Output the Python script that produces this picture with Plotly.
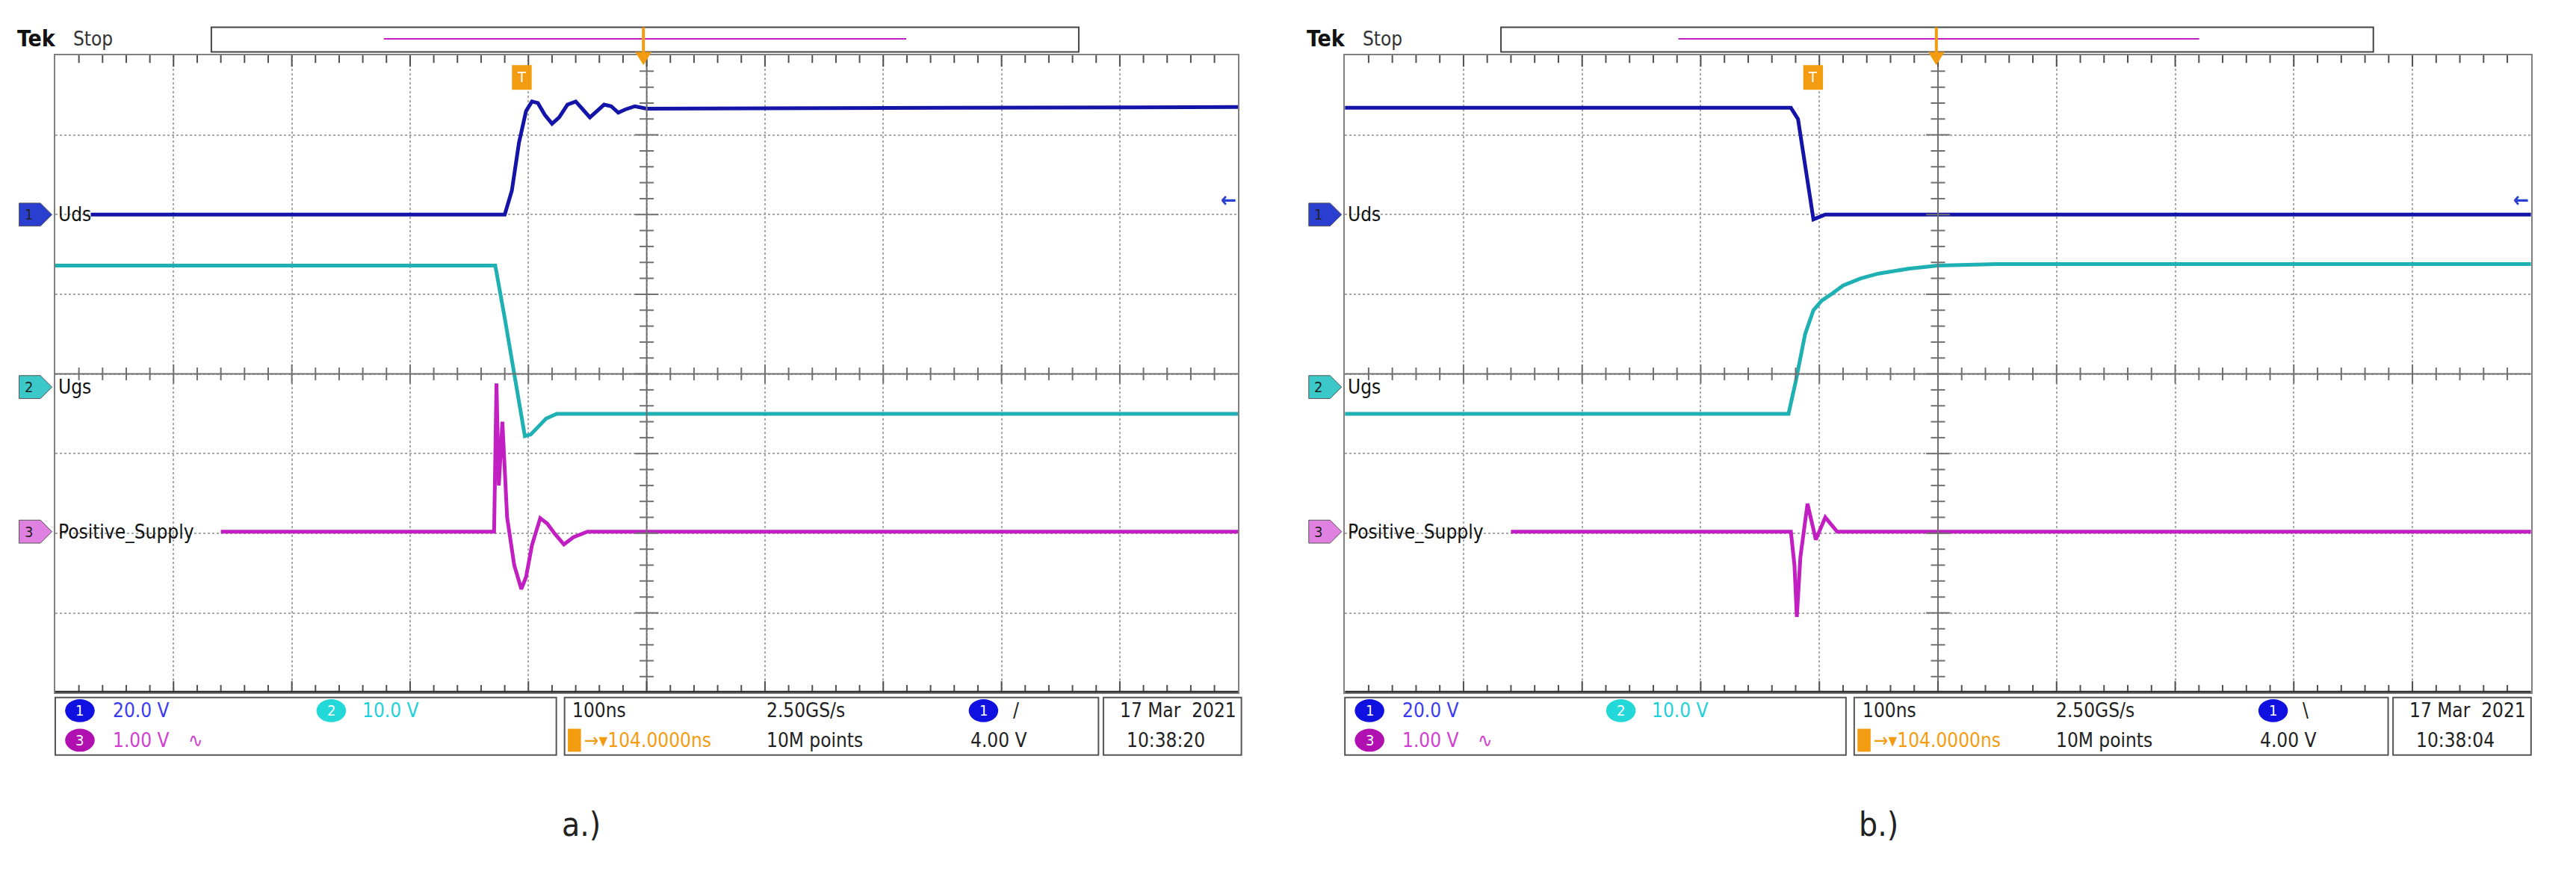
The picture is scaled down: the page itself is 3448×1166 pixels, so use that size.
import plotly.graph_objects as go

# ---- data (time in divisions, 100 ns/div; level in divisions from bottom) ----
uds_a_t = [0.30, 3.80, 3.86, 3.92, 3.98, 4.03, 4.08, 4.14, 4.20, 4.26, 4.33, 4.40, 4.46, 4.52, 4.58, 4.64, 4.70, 4.76, 4.82, 4.90, 5.00, 10.0]
uds_a_v = [6.00, 6.00, 6.30, 6.90, 7.30, 7.42, 7.40, 7.25, 7.14, 7.22, 7.38, 7.42, 7.32, 7.22, 7.30, 7.38, 7.36, 7.28, 7.32, 7.36, 7.33, 7.35]
ugs_a_t = [0.00, 3.72, 3.80, 3.90, 3.97, 4.02, 4.08, 4.15, 4.24, 10.0]
ugs_a_v = [5.36, 5.36, 4.70, 3.80, 3.22, 3.24, 3.34, 3.44, 3.50, 3.50]
pos_a_t = [1.40, 3.71, 3.73, 3.75, 3.78, 3.82, 3.88, 3.94, 3.98, 4.03, 4.10, 4.16, 4.22, 4.30, 4.38, 4.50, 4.80, 10.0]
pos_a_v = [2.02, 2.02, 3.88, 2.60, 3.40, 2.20, 1.60, 1.30, 1.45, 1.85, 2.19, 2.12, 2.00, 1.86, 1.95, 2.02, 2.02, 2.02]

uds_b_t = [0.00, 3.76, 3.82, 3.90, 3.95, 4.05, 4.20, 10.0]
uds_b_v = [7.34, 7.34, 7.20, 6.40, 5.94, 6.00, 6.00, 6.00]
ugs_b_t = [0.00, 3.74, 3.80, 3.88, 3.95, 4.02, 4.10, 4.20, 4.35, 4.50, 4.75, 5.00, 5.50, 10.0]
ugs_b_v = [3.50, 3.50, 3.90, 4.50, 4.80, 4.92, 5.00, 5.11, 5.20, 5.26, 5.32, 5.36, 5.38, 5.38]
pos_b_t = [1.40, 3.76, 3.79, 3.81, 3.84, 3.90, 3.97, 4.05, 4.15, 4.40, 10.0]
pos_b_v = [2.02, 2.02, 1.60, 0.95, 1.70, 2.37, 1.92, 2.20, 2.02, 2.02, 2.02]

C_UDS, C_UGS, C_POS, C_ORG = "#1414a8", "#1fb0b4", "#c21fc2", "#f39c12"
W, H = 3448, 1166
S = W / 1568.0  # display -> pixel scale

def px(x): return x * S / W
def py(y): return 1 - y * S / H

GX = [(30, 750), (815, 1537)]
GY = (30, 418)

fig = go.Figure()
panels = [("x", "y", uds_a_t, uds_a_v, ugs_a_t, ugs_a_v, pos_a_t, pos_a_v),
          ("x2", "y2", uds_b_t, uds_b_v, ugs_b_t, ugs_b_v, pos_b_t, pos_b_v)]
for xa, ya, ut, uv, gt, gv, pt, pv in panels:
    for t, v, c in [(gt, gv, C_UGS), (pt, pv, C_POS), (ut, uv, C_UDS)]:
        fig.add_trace(go.Scatter(x=t, y=v, xaxis=xa, yaxis=ya, mode="lines",
                                 line=dict(color=c, width=5), showlegend=False, hoverinfo="skip"))

ax = dict(range=[0, 10], dtick=1, showgrid=True, gridcolor="#a8a8a8", griddash="dot",
          gridwidth=2, zeroline=False, showticklabels=False, ticks="", showline=True,
          linecolor="#808080", linewidth=2, mirror=True, fixedrange=True)
ay = dict(ax, range=[0, 8])
fig.update_layout(
    width=W, height=H, margin=dict(l=0, r=0, t=0, b=0), paper_bgcolor="white", plot_bgcolor="white",
    xaxis=dict(ax, domain=[px(GX[0][0]), px(GX[0][1])], anchor="y"),
    xaxis2=dict(ax, domain=[px(GX[1][0]), px(GX[1][1])], anchor="y2"),
    yaxis=dict(ay, domain=[py(GY[1]), py(GY[0])], anchor="x"),
    yaxis2=dict(ay, domain=[py(GY[1]), py(GY[0])], anchor="x2"),
)

shapes, ann = [], []
FONT = "Liberation Sans Narrow, DejaVu Sans Condensed, sans-serif"

def text(x, y, s, size=26, color="#222", xanchor="left", yanchor="middle", bold=False):
    ann.append(dict(x=px(x), y=py(y), xref="paper", yref="paper", text=("<b>%s</b>" % s if bold else s),
                    showarrow=False, xanchor=xanchor, yanchor=yanchor,
                    font=dict(family=FONT, size=size, color=color)))

for i, (xa, ya) in enumerate([("x", "y"), ("x2", "y2")]):
    shapes.append(dict(type="line", xref=xa, yref=ya, x0=5, x1=5, y0=0, y1=8, line=dict(color="#707070", width=2)))
    shapes.append(dict(type="line", xref=xa, yref=ya, x0=0, x1=10, y0=4, y1=4, line=dict(color="#707070", width=2)))
    for k in range(1, 50):
        xv = k * 0.2
        L = 0.08 if k % 5 else 0.12
        shapes.append(dict(type="line", xref=xa, yref=ya, x0=xv, x1=xv, y0=4 - L, y1=4 + L, line=dict(color="#707070", width=2)))
        shapes.append(dict(type="line", xref=xa, yref=ya, x0=xv, x1=xv, y0=0, y1=L * 1.2, line=dict(color="#505050", width=2)))
        shapes.append(dict(type="line", xref=xa, yref=ya, x0=xv, x1=xv, y0=8 - L * 1.2, y1=8, line=dict(color="#505050", width=2)))
    for k in range(1, 40):
        yv = k * 0.2
        L = 0.06 if k % 5 else 0.1
        shapes.append(dict(type="line", xref=xa, yref=ya, x0=5 - L, x1=5 + L, y0=yv, y1=yv, line=dict(color="#707070", width=2)))
    shapes.append(dict(type="line", xref=xa, yref=ya, x0=0, x1=10, y0=0, y1=0, line=dict(color="#303030", width=5)))

    g0, g1 = GX[i]
    off = g0 - 30
    text(6 + off, 20, "Tek", size=30, color="#111", bold=True)
    text(40 + off, 20, "Stop", size=26, color="#333")
    shapes.append(dict(type="rect", xref="paper", yref="paper", x0=px(125 + off), x1=px(653 + off + i * 3),
                       y0=py(28), y1=py(13), line=dict(color="#444", width=2)))
    shapes.append(dict(type="line", xref="paper", yref="paper", x0=px(230 + off + i * 3), x1=px(548 + off + i * 2),
                       y0=py(20), y1=py(20), line=dict(color=C_POS, width=2)))
    cx = 388 + off + i * 2
    shapes.append(dict(type="line", xref="paper", yref="paper", x0=px(cx), x1=px(cx), y0=py(13), y1=py(30),
                       line=dict(color=C_ORG, width=4)))
    shapes.append(dict(type="path", xref="paper", yref="paper",
                       path="M %f %f L %f %f L %f %f Z" % (px(cx - 5), py(28), px(cx + 5), py(28), px(cx), py(36)),
                       fillcolor=C_ORG, line=dict(width=0)))
    tx = [314, 1100][i]
    shapes.append(dict(type="rect", xref="paper", yref="paper", x0=px(tx - 6), x1=px(tx + 6), y0=py(51), y1=py(36),
                       fillcolor=C_ORG, line=dict(width=0)))
    text(tx, 43, "T", size=20, color="white", xanchor="center")
    for yy, num, lab, col in [(127, "1", "Uds", "#2a3fd0"), (232, "2", "Ugs", "#3cc8c8"), (320, "3", "Positive_Supply", "#e080e0")]:
        shapes.append(dict(type="path", xref="paper", yref="paper",
                           path="M %f %f L %f %f L %f %f L %f %f L %f %f Z" % (
                               px(g0 - 22), py(yy - 7), px(g0 - 9), py(yy - 7), px(g0 - 2), py(yy),
                               px(g0 - 9), py(yy + 7), px(g0 - 22), py(yy + 7)),
                           fillcolor=col, line=dict(color="#555", width=1)))
        text(g0 - 16, yy, num, size=20, color="#222", xanchor="center")
        text(g0 + 1, yy, lab, size=26, color="#111")
    text(g1 - 6, 118, "←", size=28, color="#2a3fd0", xanchor="center", bold=True)

    for (b0, b1) in [(30, 335), (340, 665), (668, 752)]:
        shapes.append(dict(type="rect", xref="paper", yref="paper", x0=px(b0 + off), x1=px(b1 + off),
                           y0=py(456), y1=py(421), line=dict(color="#555", width=2)))
    for xx, yy, nm, col in [(45, 429, "1", "#1010e0"), (198, 429, "2", "#22d8d8"), (45, 447, "3", "#b010b0")]:
        shapes.append(dict(type="circle", xref="paper", yref="paper", x0=px(xx - 9 + off), x1=px(xx + 9 + off),
                           y0=py(yy + 7), y1=py(yy - 7), fillcolor=col, line=dict(width=0)))
        text(xx + off, yy, nm, size=20, color="white", xanchor="center")
    text(64 + off, 429, "20.0 V", color="#3a3af0")
    text(216 + off, 429, "10.0 V", color="#22d0d8")
    text(64 + off, 447, "1.00 V", color="#d040d0")
    text(110 + off, 447, "∿", color="#d040d0")
    text(344 + off, 429, "100ns")
    shapes.append(dict(type="rect", xref="paper", yref="paper", x0=px(342 + off), x1=px(350 + off), y0=py(454), y1=py(440),
                       fillcolor=C_ORG, line=dict(width=0)))
    text(351 + off, 447, "→▾104.0000ns", color=C_ORG)
    text(462 + off, 429, "2.50GS/s")
    text(462 + off, 447, "10M points")
    shapes.append(dict(type="circle", xref="paper", yref="paper", x0=px(586 + off), x1=px(604 + off),
                       y0=py(436), y1=py(422), fillcolor="#1010e0", line=dict(width=0)))
    text(595 + off, 429, "1", size=20, color="white", xanchor="center")
    text(612 + off, 429, ["/", "\\"][i])
    text(586 + off, 447, "4.00 V")
    text(750 + off, 429, "17 Mar  2021", xanchor="right")
    text(681 + off, 447, ["10:38:20", "10:38:04"][i])
    text([350, 1140][i], 498, ["a.)", "b.)"][i], size=44, color="#222", xanchor="center")

fig.update_layout(shapes=shapes, annotations=ann)
fig.write_html("out.html")
